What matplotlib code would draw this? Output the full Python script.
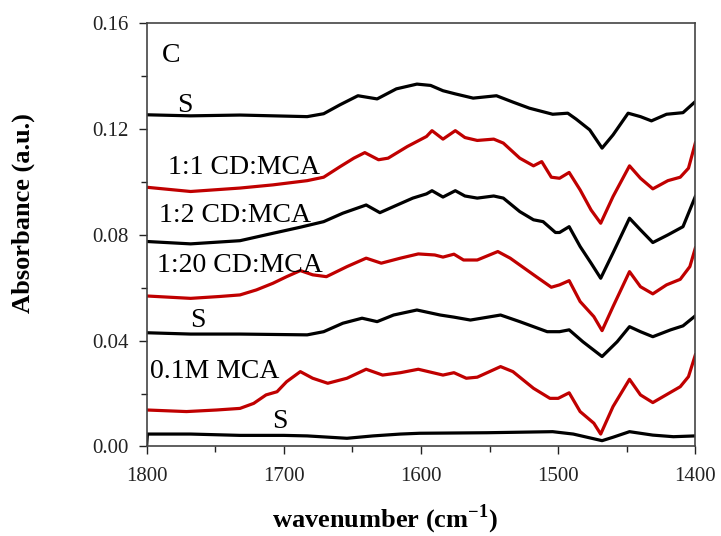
import matplotlib
matplotlib.use("Agg")
import matplotlib.pyplot as plt
from matplotlib.ticker import MultipleLocator, FormatStrFormatter

# ---- data (wavenumber in cm^-1, absorbance a.u.) ----
s_top_wn = [1800, 1768, 1732, 1683, 1671, 1659, 1646, 1632, 1618, 1603, 1593, 1584, 1575, 1562,
            1545, 1533, 1521, 1504, 1493, 1487, 1477, 1468, 1460, 1449, 1440, 1432, 1421, 1409, 1400]
s_top_a = [0.1254, 0.1250, 0.1253, 0.1247, 0.1258, 0.1292, 0.1326, 0.1314, 0.1352, 0.1370, 0.1365,
           0.1345, 0.1333, 0.1317, 0.1326, 0.1302, 0.1279, 0.1256, 0.1260, 0.1238, 0.1197, 0.1128,
           0.1178, 0.1260, 0.1247, 0.1231, 0.1256, 0.1262, 0.1304]

r11_wn = [1800, 1768, 1732, 1708, 1683, 1671, 1659, 1649, 1641, 1631, 1624, 1610, 1596, 1592, 1584,
          1575, 1568, 1559, 1547, 1540, 1528, 1518, 1512, 1505, 1499, 1492, 1484, 1476, 1469, 1460,
          1448, 1440, 1431, 1420, 1411, 1405, 1400]
r11_a = [0.0980, 0.0964, 0.0977, 0.0989, 0.1005, 0.1018, 0.1058, 0.1090, 0.1111, 0.1084, 0.1090,
         0.1134, 0.1172, 0.1194, 0.1162, 0.1194, 0.1168, 0.1157, 0.1162, 0.1147, 0.1090, 0.1061,
         0.1077, 0.1018, 0.1014, 0.1036, 0.0970, 0.0894, 0.0844, 0.0945, 0.1061, 0.1014, 0.0974,
         0.1005, 0.1018, 0.1052, 0.1147]

b12_wn = [1800, 1768, 1732, 1708, 1688, 1671, 1657, 1640, 1630, 1620, 1606, 1596, 1592, 1584, 1575,
          1568, 1559, 1547, 1540, 1528, 1518, 1511, 1502, 1499, 1492, 1484, 1476, 1469, 1460, 1448,
          1440, 1431, 1420, 1409, 1400]
b12_a = [0.0775, 0.0766, 0.0778, 0.0806, 0.0829, 0.0850, 0.0882, 0.0913, 0.0884, 0.0907, 0.0939,
         0.0955, 0.0967, 0.0943, 0.0967, 0.0947, 0.0939, 0.0947, 0.0939, 0.0888, 0.0857, 0.0850,
         0.0809, 0.0809, 0.0831, 0.0756, 0.0693, 0.0636, 0.0732, 0.0863, 0.0819, 0.0771, 0.0800,
         0.0831, 0.0945]

r120_wn = [1800, 1768, 1747, 1732, 1720, 1708, 1698, 1688, 1679, 1669, 1654, 1640, 1629, 1615, 1602,
           1590, 1584, 1576, 1569, 1559, 1544, 1535, 1516, 1505, 1499, 1492, 1484, 1474, 1468, 1460,
           1448, 1440, 1431, 1421, 1411, 1404, 1400]
r120_a = [0.0569, 0.0560, 0.0567, 0.0573, 0.0592, 0.0617, 0.0642, 0.0665, 0.0649, 0.0642, 0.0680,
          0.0712, 0.0693, 0.0712, 0.0728, 0.0724, 0.0716, 0.0727, 0.0705, 0.0705, 0.0737, 0.0712,
          0.0642, 0.0602, 0.0611, 0.0627, 0.0548, 0.0491, 0.0438, 0.0529, 0.0661, 0.0604, 0.0577,
          0.0611, 0.0632, 0.0680, 0.0750]

s_mid_wn = [1800, 1768, 1732, 1683, 1671, 1657, 1643, 1632, 1620, 1603, 1586, 1576, 1564, 1542, 1528,
            1508, 1499, 1492, 1482, 1468, 1457, 1448, 1440, 1431, 1418, 1409, 1400]
s_mid_a = [0.0430, 0.0425, 0.0425, 0.0422, 0.0434, 0.0466, 0.0485, 0.0472, 0.0497, 0.0516, 0.0497,
           0.0489, 0.0478, 0.0497, 0.0472, 0.0434, 0.0434, 0.0441, 0.0396, 0.0340, 0.0396, 0.0453,
           0.0434, 0.0415, 0.0441, 0.0456, 0.0494]

r01_wn = [1800, 1771, 1749, 1732, 1722, 1713, 1705, 1698, 1688, 1679, 1668, 1654, 1640, 1628, 1615,
          1602, 1584, 1576, 1567, 1559, 1542, 1533, 1518, 1506, 1500, 1492, 1484, 1474, 1469, 1460,
          1448, 1440, 1431, 1420, 1411, 1405, 1400]
r01_a = [0.0138, 0.0132, 0.0138, 0.0144, 0.0163, 0.0195, 0.0207, 0.0245, 0.0283, 0.0258, 0.0239,
         0.0258, 0.0292, 0.0270, 0.0279, 0.0292, 0.0270, 0.0279, 0.0258, 0.0262, 0.0302, 0.0283,
         0.0220, 0.0182, 0.0182, 0.0203, 0.0132, 0.0088, 0.0047, 0.0151, 0.0254, 0.0195, 0.0166,
         0.0199, 0.0226, 0.0264, 0.0346]

s_bot_wn = [1800, 1799.5, 1768, 1732, 1700, 1683, 1654, 1635, 1615, 1601, 1552, 1504, 1489, 1468,
            1460, 1448, 1431, 1416, 1400]
s_bot_a = [0.0006, 0.0047, 0.0047, 0.0042, 0.0042, 0.0040, 0.0031, 0.0040, 0.0047, 0.0050, 0.0052,
           0.0056, 0.0047, 0.0022, 0.0035, 0.0056, 0.0043, 0.0037, 0.0040]

x_ticks = [1800, 1700, 1600, 1500, 1400]
y_ticks = [0.00, 0.04, 0.08, 0.12, 0.16]

series_labels = ["S", "1:1 CD:MCA", "1:2 CD:MCA", "1:20 CD:MCA", "S", "0.1M MCA", "S"]

# ---- plot ----
plt.rcParams['font.family'] = ['Liberation Serif', 'DejaVu Serif']
fig = plt.figure(figsize=(7.21, 5.36), dpi=100)
ax = fig.add_axes([0.2035, 0.167, 0.7609, 0.7896])

RED = '#C00000'
BLK = '#000000'
lw = 2.3
ax.plot(s_top_wn, s_top_a, color=BLK, lw=lw)
ax.plot(r11_wn, r11_a, color=RED, lw=lw)
ax.plot(b12_wn, b12_a, color=BLK, lw=lw)
ax.plot(r120_wn, r120_a, color=RED, lw=lw)
ax.plot(s_mid_wn, s_mid_a, color=BLK, lw=lw)
ax.plot(r01_wn, r01_a, color=RED, lw=lw)
ax.plot(s_bot_wn, s_bot_a, color=BLK, lw=lw)

ax.set_xlim(1800, 1400)
ax.set_ylim(0, 0.16)
ax.set_xticks(x_ticks)
ax.set_yticks(y_ticks)
ax.xaxis.set_minor_locator(MultipleLocator(50))
ax.yaxis.set_minor_locator(MultipleLocator(0.02))
ax.yaxis.set_major_formatter(FormatStrFormatter('%.2f'))
ax.tick_params(which='major', direction='out', length=6, width=1.0, labelsize=15, pad=7,
               colors='#222222')
ax.tick_params(which='minor', direction='out', length=4, width=1.0, colors='#222222')
ax.tick_params(axis='x', pad=9)
for sp in ax.spines.values():
    sp.set_color('#444444')
    sp.set_linewidth(1.2)

# curve labels
fs = 20
ax.text(1782.3, 0.148, "C", fontsize=fs, ha='center', va='center')
label_pos = [(1772, 0.1288), (1729.4, 0.1053), (1735.6, 0.0872), (1732, 0.0686),
             (1762.6, 0.0478), (1750.6, 0.0282), (1702.8, 0.0093)]
for lab, (xp, yp) in zip(series_labels, label_pos):
    ax.text(xp, yp, lab, fontsize=fs, ha='center', va='center')

fig.text(385 / 721, 1 - 519 / 536, "wavenumber (cm$^{\\mathregular{-1}}$)", fontsize=19,
         fontweight='bold', ha='center', va='center')
fig.text(23 / 721, 1 - 213.5 / 536, "Absorbance (a.u.)", fontsize=19, fontweight='bold',
         rotation=90, ha='center', va='center')

fig.savefig("out.png", dpi=100)
